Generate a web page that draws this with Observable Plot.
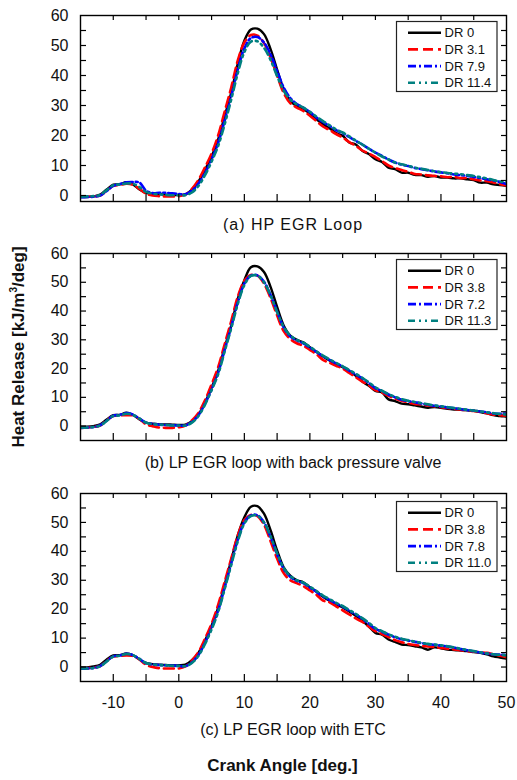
<!DOCTYPE html>
<html><head><meta charset="utf-8">
<script src="https://cdn.jsdelivr.net/npm/d3@7"></script>
<script src="https://cdn.jsdelivr.net/npm/@observablehq/plot@0.6"></script>
<style>
body{margin:0;background:#fff;}
#root{position:relative;width:517px;height:780px;font-family:"Liberation Sans",Arial,sans-serif;color:#111;overflow:hidden;}
.ptitle{position:absolute;left:80px;width:426px;text-align:center;font-size:16px;line-height:1;white-space:nowrap;}
.plotbox{position:absolute;left:0;}
</style></head><body><div id="root"></div><script>
// ---- data ----
const crankAngle = [-15,-14,-13,-12,-11,-10,-9,-8,-7,-6,-5,-4,-3,-2,-1,0,1,2,3,4,5,6,7,8,9,10,11,12,13,14,15,16,17,18,19,20,21,22,23,24,25,26,27,28,29,30,31,32,33,34,35,36,37,38,39,40,41,42,43,44,45,46,47,48,49,50];

// (a) HP EGR Loop
const aNames = ["DR 0","DR 3.1","DR 7.9","DR 11.4"];
const aDR0  = [-0.5,-0.5,-0.3,0.3,2.0,3.6,3.7,4.4,3.7,2.0,0.9,0.6,0.5,0.3,0.2,0.2,0.4,2.0,4.7,8.6,13.0,18.7,26.5,34.3,44.0,51.6,55.3,55.6,53.8,48.8,42.0,35.4,31.5,29.8,28.8,27.3,25.4,23.8,22.4,20.8,19.9,17.7,17.0,14.9,13.8,12.1,11.2,9.3,8.8,7.6,7.6,6.9,6.8,6.2,6.5,6.0,6.0,5.7,5.7,5.4,5.1,4.3,4.3,3.7,3.5,3.2];
const aDR31 = [-0.4,-0.4,-0.3,0.0,1.6,3.2,3.5,3.9,3.6,2.2,0.6,0.0,-0.2,-0.3,-0.3,-0.2,0.3,2.2,5.2,9.4,14.0,20.0,28.0,36.0,45.0,51.0,53.5,53.3,50.8,46.0,40.0,34.2,30.8,29.3,28.2,26.6,24.8,23.0,21.8,20.5,19.3,17.8,16.6,15.0,14.0,12.8,11.5,10.0,9.2,8.5,7.9,7.2,7.0,6.7,6.5,6.4,6.1,6.2,5.8,5.8,5.4,5.0,4.8,4.3,3.8,3.3];
const aDR79 = [-0.6,-0.5,-0.4,0.0,1.5,3.2,3.8,4.4,4.5,4.3,1.6,0.8,0.9,0.9,0.7,0.5,0.4,1.6,4.0,7.5,12.0,17.5,25.0,33.0,42.0,49.0,52.5,52.8,51.0,47.0,41.5,36.0,32.5,30.5,29.3,27.8,26.0,24.5,23.2,21.8,20.8,19.5,18.2,17.0,15.6,14.3,13.2,12.0,11.0,10.3,9.8,9.2,8.8,8.4,8.0,7.7,7.4,7.0,6.8,6.5,6.2,5.8,5.4,5.0,4.5,3.8];
const aDR114= [-0.4,-0.3,-0.2,0.2,1.8,3.4,3.7,4.0,3.9,2.8,1.2,0.6,0.4,0.2,0.1,0.1,0.1,1.0,3.2,6.8,11.3,16.5,23.8,32.0,40.8,47.8,51.3,51.4,49.2,45.2,39.8,35.0,32.0,30.4,29.3,27.9,26.3,24.8,23.4,22.0,21.0,19.7,18.3,17.0,15.6,14.3,13.0,12.0,11.0,10.4,9.9,9.3,8.9,8.5,8.1,7.8,7.5,7.3,7.1,6.8,6.5,6.1,5.7,5.2,4.7,4.4];

// (b) LP EGR loop with back pressure valve
const bNames = ["DR 0","DR 3.8","DR 7.2","DR 11.3"];
const bDR0  = [-0.2,-0.2,0.0,0.6,2.3,3.8,3.9,4.7,3.9,2.3,1.2,0.8,0.6,0.6,0.5,0.4,0.5,1.7,4.0,8.2,13.4,19.2,27.4,35.0,44.3,50.7,55.2,55.5,53.6,48.4,41.4,35.0,31.5,30.0,29.1,27.4,25.8,24.2,22.8,21.5,20.5,19.0,17.5,15.5,14.0,12.2,11.7,9.3,8.7,7.8,7.6,7.2,6.8,6.4,6.6,6.4,6.0,5.8,5.7,5.5,5.3,4.9,4.4,3.8,3.5,3.3];
const bDR38 = [-0.6,-0.5,-0.3,0.2,2.0,3.5,3.7,3.8,3.7,2.5,0.6,0.0,-0.5,-0.6,-0.6,-0.4,0.2,2.0,4.6,9.0,14.5,20.5,28.5,36.5,45.0,50.5,52.5,52.3,49.5,44.5,38.5,33.0,30.3,28.8,27.9,26.5,25.0,23.0,22.0,21.0,20.0,18.5,17.0,15.5,14.2,12.5,11.7,10.5,9.6,8.8,8.2,7.7,7.5,7.2,6.9,6.6,6.3,6.0,5.8,5.5,5.3,5.0,4.5,4.0,3.8,3.6];
const bDR72 = [-0.6,-0.5,-0.3,0.3,1.9,3.6,3.9,4.5,4.0,2.6,1.2,0.8,0.5,0.4,0.3,0.2,0.2,1.4,3.8,7.8,12.8,18.5,26.5,34.5,43.0,49.5,52.3,52.4,50.2,45.6,39.8,34.3,31.2,29.8,28.8,27.3,25.8,24.3,23.0,21.8,20.7,19.3,18.0,16.6,15.0,13.2,12.2,11.0,10.0,9.2,8.7,8.3,7.9,7.4,7.1,6.8,6.5,6.2,5.9,5.6,5.4,5.1,4.8,4.4,4.3,4.4];
const bDR113= [-0.5,-0.5,-0.3,0.2,1.8,3.5,3.7,4.3,3.9,2.6,1.2,0.7,0.5,0.4,0.2,0.2,0.2,1.2,3.5,7.5,12.5,18.0,26.0,34.0,42.5,49.0,52.2,52.3,50.0,45.4,39.6,34.5,31.5,30.0,29.0,27.6,26.0,24.5,23.2,22.0,20.8,19.5,18.2,16.8,15.2,13.5,12.3,11.1,10.2,9.4,8.8,8.4,8.0,7.6,7.2,6.9,6.6,6.3,6.0,5.7,5.4,5.1,4.8,4.5,4.2,4.0];

// (c) LP EGR loop with ETC
const cNames = ["DR 0","DR 3.8","DR 7.8","DR 11.0"];
const cDR0  = [-0.1,-0.1,0.2,0.8,2.6,4.0,4.1,4.7,4.1,2.6,1.4,1.0,0.8,0.7,0.6,0.6,0.8,2.4,5.0,9.2,14.3,20.5,28.5,37.0,45.5,51.8,55.4,55.6,53.0,47.3,40.3,34.5,31.6,30.0,29.3,27.6,26.1,24.3,22.9,21.6,20.6,19.2,17.7,16.0,14.0,11.8,11.2,9.5,8.7,7.8,7.6,7.2,6.8,6.0,6.8,6.5,6.0,5.9,5.7,5.5,5.2,4.9,4.4,3.7,3.3,2.9];
const cDR38 = [-0.5,-0.4,-0.2,0.3,2.2,3.6,3.8,4.0,3.8,2.6,0.8,0.0,-0.4,-0.5,-0.5,-0.5,0.2,2.2,5.2,9.8,15.0,21.5,29.5,37.5,45.5,50.8,52.6,52.2,49.2,43.5,37.5,32.5,30.0,29.0,28.0,26.5,25.0,23.0,22.4,21.0,19.6,18.2,16.8,15.6,14.0,12.4,11.4,10.4,9.3,8.6,8.0,7.6,7.3,7.1,6.9,6.6,6.3,6.1,5.8,5.5,5.3,5.1,4.9,4.4,3.9,3.4];
const cDR78 = [-0.6,-0.5,-0.3,0.3,2.0,3.7,4.0,4.6,4.1,2.8,1.3,0.9,0.7,0.6,0.5,0.4,0.3,1.6,4.2,8.4,13.5,19.5,27.5,35.8,44.0,50.0,52.4,52.5,50.0,45.0,39.0,34.0,31.2,29.8,29.0,27.5,26.0,24.4,23.2,22.0,20.9,19.5,18.2,16.7,15.0,13.2,12.2,11.2,10.3,9.6,9.2,8.7,8.3,7.9,7.7,7.4,7.1,6.7,6.2,5.8,5.4,5.0,4.6,4.4,4.3,4.2];
const cDR110= [-0.5,-0.5,-0.3,0.2,1.9,3.6,3.9,4.5,4.1,2.8,1.4,0.9,0.7,0.6,0.4,0.4,0.3,1.4,3.9,8.0,13.0,19.0,27.0,35.3,43.5,49.6,52.2,52.3,50.0,45.2,39.3,34.3,31.5,30.0,29.2,27.8,26.3,24.7,23.5,22.2,21.1,19.7,18.4,16.9,15.3,13.5,12.4,11.3,10.5,9.8,9.3,8.8,8.4,8.0,7.8,7.5,7.2,6.8,6.3,5.9,5.5,5.1,4.7,4.4,4.2,4.0];

// tick values
const xTickLabels = [-10,0,10,20,30,40,50];
const xTickMarks  = [-10,-5,0,5,10,15,20,25,30,35,40,45];
const yTickLabels = [0,10,20,30,40,50,60];
const yTickMarks  = [0,5,10,15,20,25,30,35,40,45,50,55];

// ---- styles ----
const lineStyles = [
  {color:"#000000", width:2.4, dash:null},
  {color:"#ff0000", width:2.6, dash:"10,5"},
  {color:"#0000ff", width:2.6, dash:"8,3,2,3"},
  {color:"#008080", width:2.6, dash:"7,4,2,4,2,4"}
];

const FRAME_W = 426;
const root = document.getElementById("root");
const plain = d => String(d);

function makePanel(cfg){
  const marks = [];
  cfg.series.forEach((vals, k) => {
    const st = lineStyles[k];
    marks.push(Plot.line(crankAngle.map((x,i)=>({x, y: vals[i]})), {
      x:"x", y:"y", stroke: st.color, strokeWidth: st.width,
      strokeDasharray: st.dash, curve:"catmull-rom", clip:true
    }));
  });
  const H = cfg.frameH;
  marks.push(Plot.tickX(xTickMarks, {x:d=>d, insetTop:H-7, stroke:"#000", strokeWidth:1.2}));
  marks.push(Plot.tickX(xTickMarks, {x:d=>d, insetBottom:H-5, stroke:"#000", strokeWidth:1.2}));
  marks.push(Plot.tickY(yTickMarks, {y:d=>d, insetRight:FRAME_W-6, stroke:"#000", strokeWidth:1.2}));
  marks.push(Plot.tickY(yTickMarks, {y:d=>d, insetLeft:FRAME_W-5, stroke:"#000", strokeWidth:1.2}));
  marks.push(Plot.frame({stroke:"#000", strokeWidth:1.4}));
  marks.push(Plot.axisY({ticks: yTickLabels, tickFormat: plain, tickSize:0, tickPadding:12, label:null, fontSize:16}));
  if (cfg.showX) marks.push(Plot.axisX({ticks: xTickLabels, tickFormat: plain, tickSize:0, tickPadding:15, label:null, fontSize:16}));
  const plot = Plot.plot({
    width:517, height: cfg.marginTop + H + cfg.marginBottom,
    marginLeft:80, marginRight:11, marginTop:cfg.marginTop, marginBottom:cfg.marginBottom,
    x:{domain:[-15,50], axis: cfg.showX ? undefined : null},
    y:{domain:cfg.yDomain},
    style:{fontFamily:'"Liberation Sans", Arial, sans-serif', fontSize:"16px", color:"#111", background:"transparent", overflow:"visible"},
    marks
  });
  const box = document.createElement("div");
  box.className = "plotbox";
  box.style.top = cfg.top + "px";
  box.appendChild(plot);
  root.appendChild(box);

  // legend
  const lg = d3.create("svg").attr("width",103).attr("height",73)
    .style("position","absolute").style("left","396px").style("top", cfg.legendTop+"px").style("overflow","visible");
  lg.append("rect").attr("x",0.5).attr("y",0.5).attr("width",100.5).attr("height",70)
    .attr("fill","#fff").attr("stroke","#222").attr("stroke-width",1.2);
  cfg.names.forEach((nm,i)=>{
    const st = lineStyles[i], y = 11.7 + 16.7*i;
    lg.append("line").attr("x1",12).attr("x2",45).attr("y1",y).attr("y2",y)
      .attr("stroke",st.color).attr("stroke-width",st.width).attr("stroke-dasharray",st.dash);
    lg.append("text").attr("x",48.5).attr("y",y).attr("dy","0.36em")
      .attr("font-size","13px").attr("font-family",'"Liberation Sans", Arial, sans-serif').attr("fill","#111").text(nm);
  });
  root.appendChild(lg.node());

  const t = document.createElement("div");
  t.className = "ptitle";
  t.style.top = (cfg.titleY - 8) + "px";
  if (cfg.titleSpacing) t.style.letterSpacing = cfg.titleSpacing;
  t.textContent = cfg.title;
  root.appendChild(t);
}

makePanel({top:0, marginTop:15, frameH:186, marginBottom:10, yDomain:[-2,60], showX:false,
  series:[aDR0,aDR31,aDR79,aDR114], names:aNames, legendTop:20.5,
  title:"(a) HP EGR Loop", titleY:225, titleSpacing:"1px"});
makePanel({top:240, marginTop:13, frameH:187, marginBottom:10, yDomain:[-5,60], showX:false,
  series:[bDR0,bDR38,bDR72,bDR113], names:bNames, legendTop:259,
  title:"(b) LP EGR loop with back pressure valve", titleY:463});
makePanel({top:480, marginTop:13, frameH:188, marginBottom:35, yDomain:[-5,60], showX:true,
  series:[cDR0,cDR38,cDR78,cDR110], names:cNames, legendTop:500.5,
  title:"(c) LP EGR loop with ETC", titleY:730});

// axis titles
const xl = document.createElement("div");
xl.style.cssText = "position:absolute;left:0;width:565px;top:756px;height:20px;line-height:20px;text-align:center;font-weight:bold;font-size:17px;";
xl.textContent = "Crank Angle [deg.]";
root.appendChild(xl);

const yl = document.createElement("div");
yl.style.cssText = "position:absolute;left:-131px;width:300px;top:337px;height:20px;line-height:20px;text-align:center;font-weight:bold;font-size:17px;transform:rotate(-90deg);white-space:nowrap;";
yl.innerHTML = "Heat Release [kJ/m<sup style='font-size:10px;line-height:0;vertical-align:7px'>3</sup>/deg]";
root.appendChild(yl);
</script></body></html>
